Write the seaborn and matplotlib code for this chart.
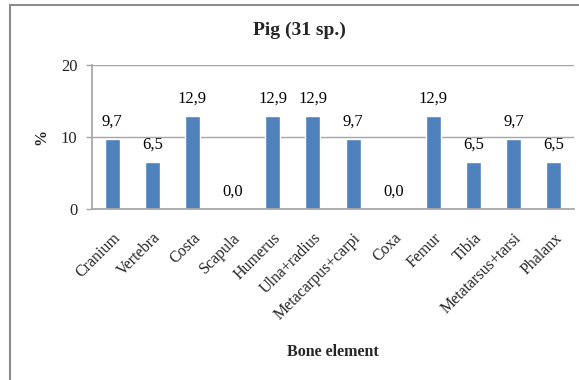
import matplotlib
matplotlib.use("Agg")
import matplotlib.pyplot as plt
from matplotlib.lines import Line2D
import seaborn as sns
import pandas as pd

categories = ["Cranium", "Vertebra", "Costa", "Scapula", "Humerus", "Ulna+radius",
              "Metacarpus+carpi", "Coxa", "Femur", "Tibia", "Metatarsus+tarsi", "Phalanx"]
values = [9.7, 6.5, 12.9, 0.0, 12.9, 12.9, 9.7, 0.0, 12.9, 6.5, 9.7, 6.5]
y_ticks = [0, 10, 20]

sns.set_theme(style="white")
plt.rcParams["font.family"] = ["Liberation Serif", "DejaVu Serif"]

df = pd.DataFrame({"element": categories, "pct": values})

fig = plt.figure(figsize=(5.79, 3.80), dpi=100)
ax = fig.add_axes([92 / 579, 1 - 209 / 380, (574 - 92) / 579, (209 - 65) / 380])

sns.barplot(data=df, x="element", y="pct", color="#4F81BD", saturation=1,
            width=0.37, ax=ax)

ax.set_ylim(0, 20)
ax.set_xlim(-0.5, len(categories) - 0.5)
ax.set_yticks(y_ticks)
ax.set_yticklabels([str(t) for t in y_ticks], fontsize=12)
ax.yaxis.grid(True, color="#a6a6a6", linewidth=1.0)
ax.set_axisbelow(True)

for s in ["top", "right"]:
    ax.spines[s].set_visible(False)
ax.spines["left"].set_color("#a6a6a6")
ax.spines["bottom"].set_color("#a6a6a6")
ax.tick_params(axis="y", left=True, length=4, width=1, color="#a6a6a6", pad=6.5)
ax.tick_params(axis="x", bottom=False, pad=9)

ax.set_xticks(range(len(categories)))
ax.set_xticklabels(categories, rotation=45, ha="right", rotation_mode="anchor",
                   fontsize=11.5)

for i, v in enumerate(values):
    ax.text(i, v + 1.3, f"{v:.1f}".replace(".", ","), ha="center", va="bottom",
            fontsize=12, color="#000000")

ax.set_xlabel("")
ax.set_ylabel("")
fig.text(333 / 579, 1 - 352 / 380, "Bone element", ha="center", va="center",
         fontsize=11.5, fontweight="bold")
fig.text(41 / 579, 1 - 137 / 380, "%", ha="center", va="center", rotation=90,
         fontsize=11.5, fontweight="bold")
fig.text(299 / 579, 1 - 30 / 380, "Pig (31 sp.)", ha="center", va="center",
         fontsize=14, fontweight="bold")

# chart frame (left and top edges)
x0, y0 = 10 / 579, 1 - 5 / 380
fig.add_artist(Line2D([x0, x0], [0, y0], transform=fig.transFigure,
                      color="#8c8c8c", linewidth=1.5))
fig.add_artist(Line2D([x0, 1], [y0, y0], transform=fig.transFigure,
                      color="#8c8c8c", linewidth=1.5))

fig.savefig("out.png", dpi=100, facecolor="white")
